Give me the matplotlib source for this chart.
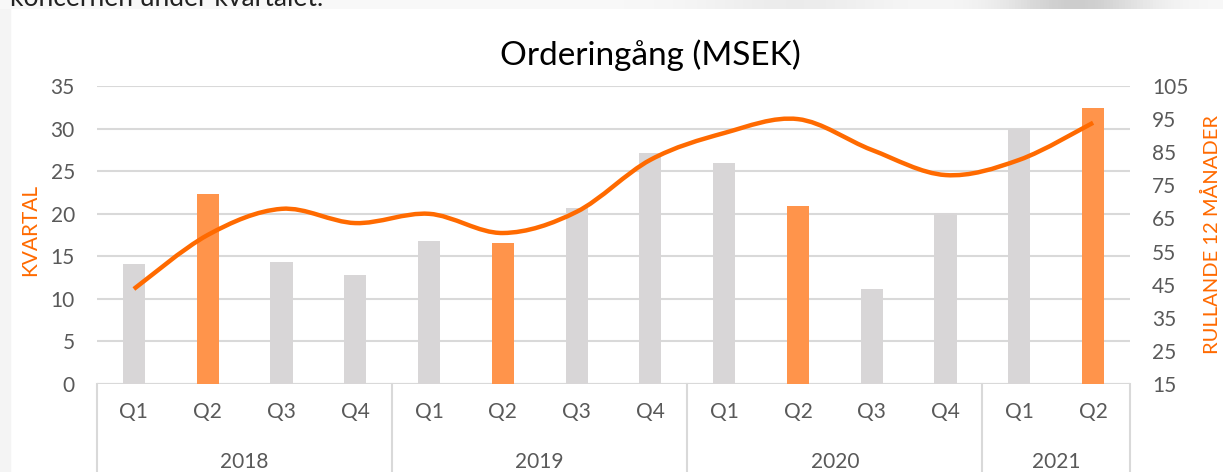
import numpy as np
import matplotlib
matplotlib.use("Agg")
import matplotlib.pyplot as plt
from matplotlib.path import Path
from matplotlib.patches import PathPatch, Rectangle
import matplotlib.transforms as mtransforms

plt.rcParams['font.family'] = ['Lato', 'DejaVu Sans']

# data
years = ["2018", "2019", "2020", "2021"]
quarters = ["Q1", "Q2", "Q3", "Q4", "Q1", "Q2", "Q3", "Q4",
            "Q1", "Q2", "Q3", "Q4", "Q1", "Q2"]
year_sizes = [4, 4, 4, 2]
kvartal = [14.1, 22.3, 14.3, 12.8, 16.8, 16.6, 20.7, 27.1,
           26.0, 20.9, 11.2, 20.1, 30.0, 32.4]
rullande = [43.7, 60.0, 67.9, 63.6, 66.4, 60.6, 67.0, 82.7,
            90.8, 95.0, 85.7, 78.1, 82.7, 93.9]

GREY = "#D8D6D7"
ORANGE_BAR = "#FF944B"
ORANGE = "#FF6A00"
TXT = "#595959"
GRID = "#D9D9D9"

fig = plt.figure(figsize=(12.23, 4.72), dpi=100)

# page background bits around the chart (cropped screenshot)
fig.patches.append(Rectangle((0, 0), 10 / 1223, 1, transform=fig.transFigure,
                             color="#F4F4F4", zorder=-5))
bg = fig.add_axes([0, 1 - 9 / 472, 1, 9 / 472])
grad = np.ones((1, 400)) * 0.975
xs = np.linspace(0, 1, 400)
grad[0] -= 0.17 * np.exp(-((xs - 0.88) / 0.06) ** 2)
grad[0] -= 0.05 * np.exp(-((xs - 0.65) / 0.08) ** 2)
bg.imshow(np.dstack([grad, grad, grad]), aspect="auto", extent=[0, 1, 0, 1])
bg.axis("off")
fig.text(10 / 1223, 1 + 1 / 472, "koncernen under kvartalet.", fontsize=19,
         color="#222222", ha="left", va="center")

ax = fig.add_axes([97 / 1223, 1 - 384 / 472, (1130 - 97) / 1223, 298 / 472])
ax2 = ax.twinx()

x = np.arange(len(kvartal))
colors = [ORANGE_BAR if q == "Q2" else GREY for q in quarters]
ax.bar(x, kvartal, width=0.3, color=colors, zorder=2)
ax.set_xlim(-0.5, len(kvartal) - 0.5)
ax.set_ylim(0, 35)
ax.set_yticks(np.arange(0, 36, 5))
ax.set_axisbelow(True)
ax.grid(axis="y", color=GRID, lw=1.5)
for s in ax.spines.values():
    s.set_visible(False)
for s in ax2.spines.values():
    s.set_visible(False)
ax.axhline(0, color=GRID, lw=1.5, zorder=1)
ax.tick_params(axis="y", length=0, pad=16, labelsize=15, labelcolor=TXT)
ax.set_xticks(x)
ax.set_xticklabels(quarters)
ax.tick_params(axis="x", length=0, pad=13, labelsize=15, labelcolor=TXT)

# smoothed line (Catmull-Rom as bezier path)
pts = np.column_stack([x, rullande]).astype(float)
verts = [tuple(pts[0])]
codes = [Path.MOVETO]
n = len(pts)
for i in range(n - 1):
    p0 = pts[max(i - 1, 0)]
    p1 = pts[i]
    p2 = pts[i + 1]
    p3 = pts[min(i + 2, n - 1)]
    c1 = p1 + (p2 - p0) / 6
    c2 = p2 - (p3 - p1) / 6
    verts += [tuple(c1), tuple(c2), tuple(p2)]
    codes += [Path.CURVE4] * 3
ax2.add_patch(PathPatch(Path(verts, codes), fill=False, edgecolor=ORANGE,
                        lw=3.2, capstyle="butt", zorder=3))
ax2.set_ylim(15, 105)
ax2.set_yticks(np.arange(15, 106, 10))
ax2.tick_params(axis="y", length=0, pad=16, labelsize=15, labelcolor=TXT)

# year groups
trans = mtransforms.blended_transform_factory(ax.transData, ax.transAxes)
bounds = np.concatenate([[0], np.cumsum(year_sizes)]) - 0.5
for b in bounds:
    ax.plot([b, b], [0, -0.3], transform=trans, color=GRID, lw=1.5,
            clip_on=False)
for i, yr in enumerate(years):
    cx = (bounds[i] + bounds[i + 1]) / 2
    ax.text(cx, -0.262, yr, transform=trans, ha="center", va="center",
            fontsize=15, color=TXT)

fig.text(0.532, 1 - 55 / 472, "Orderingång (MSEK)", fontsize=24,
         ha="center", va="center", color="black")
fig.text(30 / 1223, 1 - 230 / 472, "KVARTAL", rotation=90, fontsize=15,
         ha="center", va="center", color=ORANGE)
fig.text(1212 / 1223, 1 - 235 / 472, "RULLANDE 12 MÅNADER", rotation=90,
         fontsize=14.5, ha="center", va="center", color=ORANGE)

fig.savefig("out.png", dpi=100)
